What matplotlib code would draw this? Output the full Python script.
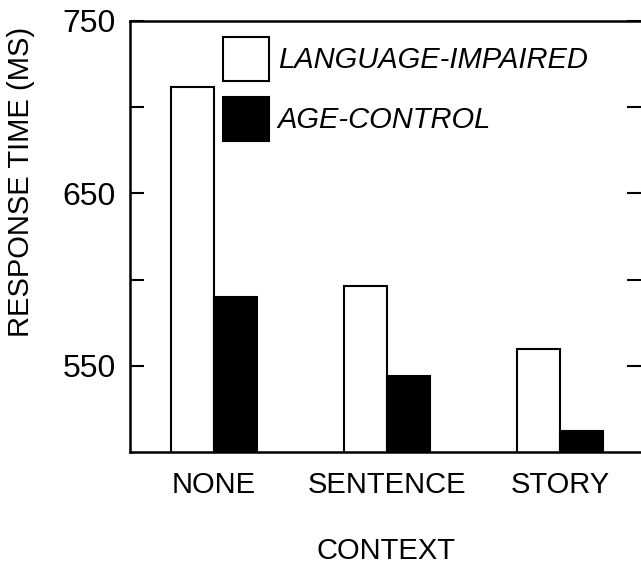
import numpy as np
import matplotlib
matplotlib.use("Agg")
import matplotlib.pyplot as plt

# dane
contexts = ["NONE", "SENTENCE", "STORY"]
impaired = [712, 596, 560]
control = [590, 544, 512]
series_labels = ["LANGUAGE-IMPAIRED", "AGE-CONTROL"]
yticks_major = [550, 650, 750]
yticks_minor = [600, 700]

plt.rcParams['font.family'] = ['Liberation Sans', 'DejaVu Sans']

fig = plt.figure(figsize=(6.41, 5.65), dpi=100)
ax = fig.add_axes([130/641, 1 - 452/565, 1 - 130/641, (452 - 21)/565])

x = np.arange(len(contexts))
w = 0.25
ax.bar(x - w/2, impaired, w, color='white', edgecolor='black', linewidth=1.5,
       label=series_labels[0], zorder=2)
ax.bar(x + w/2, control, w, color='black', edgecolor='black', linewidth=1.5,
       label=series_labels[1], zorder=2)

ax.set_ylim(500, 750)
ax.set_xlim(-0.486, 2.468)

ax.set_yticks(yticks_major)
ax.set_yticks(yticks_minor, minor=True)
ax.tick_params(axis='y', which='both', direction='in', left=True, right=True,
               length=10, width=1.5, labelsize=23, pad=10)
ax.set_xticks(x)
ax.set_xticklabels(contexts, fontsize=21)
ax.tick_params(axis='x', length=0, pad=14)

for s in ['left', 'bottom', 'top']:
    ax.spines[s].set_linewidth(1.8)
ax.spines['right'].set_visible(False)

ax.set_xlabel("CONTEXT", fontsize=21, labelpad=27)
fig.text(21/641, 1 - 182/565, "RESPONSE TIME (MS)", rotation=90,
         ha='center', va='center', fontsize=21)

leg = ax.legend(loc='upper left', bbox_to_anchor=(223/641, 1 - 37/565),
                bbox_transform=fig.transFigure, frameon=False, fontsize=21,
                handlelength=1.58, handleheight=1.93, handletextpad=0.3,
                labelspacing=0.55, borderpad=0, borderaxespad=0)
for t in leg.get_texts():
    t.set_fontstyle('italic')

fig.savefig("out.png", dpi=100)
